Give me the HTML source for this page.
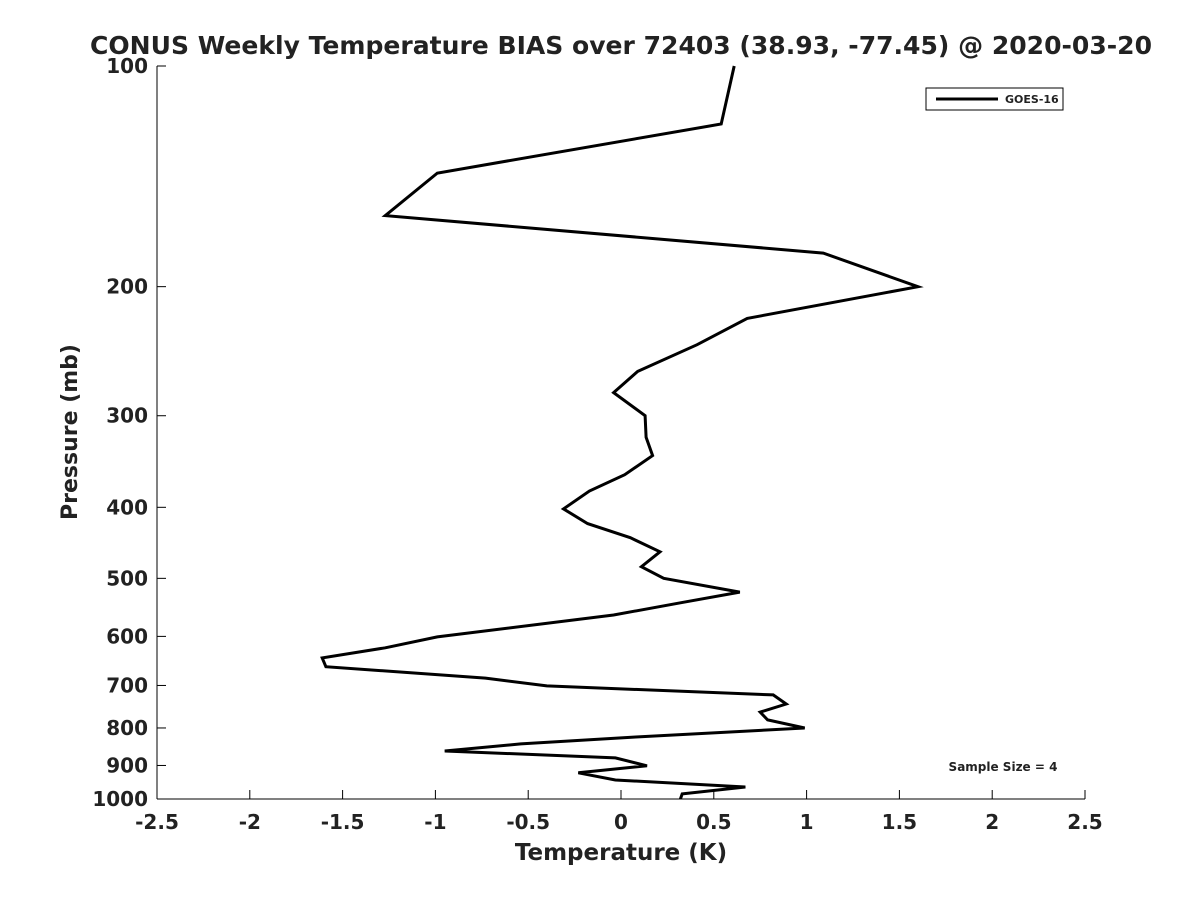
<!DOCTYPE html>
<html><head><meta charset="utf-8"><style>
body{margin:0;background:#fff;font-family:"Liberation Sans","DejaVu Sans",sans-serif}
svg text{font-family:"DejaVu Sans","Liberation Sans",sans-serif;font-weight:bold;fill:#222}
</style></head><body>
<svg id="chart" width="1200" height="900" xmlns="http://www.w3.org/2000/svg">
<rect width="1200" height="900" fill="#fff"/>
<text x="621" y="54" text-anchor="middle" font-size="25" textLength="1062" lengthAdjust="spacingAndGlyphs">CONUS Weekly Temperature BIAS over 72403 (38.93, -77.45) @ 2020-03-20</text>
<g id="axes"></g>
<path id="series" fill="none" stroke="#000" stroke-width="3" stroke-linejoin="miter"/>
<g>
<rect x="926" y="88" width="137" height="22" fill="#fff" stroke="#000" stroke-width="1"/>
<line x1="936" y1="99" x2="998" y2="99" stroke="#000" stroke-width="3"/>
<text x="1005" y="103" font-size="11">GOES-16</text>
</g>
<text x="1003" y="771" text-anchor="middle" font-size="12">Sample Size = 4</text>
<text x="621" y="860" text-anchor="middle" font-size="23">Temperature (K)</text>
<text transform="translate(77,432) rotate(-90)" text-anchor="middle" font-size="22">Pressure (mb)</text>
</svg>
<script>
const pressures=[100,120,140,160,180,200,221,240,261,279,300,321,340,361,380,402,421,440,460,482,500,522,540,561,601,622,642,660,684,701,721,742,761,780,800,823,841,860,879,901,921,942,963,984,1000];
const temps=[0.61,0.54,-0.99,-1.27,1.09,1.60,0.68,0.41,0.09,-0.04,0.13,0.135,0.17,0.02,-0.17,-0.31,-0.18,0.05,0.21,0.11,0.23,0.64,0.32,-0.04,-0.99,-1.27,-1.61,-1.59,-0.73,-0.40,0.82,0.89,0.75,0.79,0.99,0.08,-0.54,-0.95,-0.03,0.14,-0.23,-0.03,0.67,0.33,0.32];
const xTicks=[-2.5,-2,-1.5,-1,-0.5,0,0.5,1,1.5,2,2.5];
const yTicks=[100,200,300,400,500,600,700,800,900,1000];
const X0=157,X1=1085,Y0=66,Y1=799;
const xs=t=>X0+(t+2.5)/5*(X1-X0);
const ys=p=>Y0+(Math.log10(p)-2)*(Y1-Y0);
const NS='http://www.w3.org/2000/svg';
const ax=document.getElementById('axes');
function mk(tag,attrs){const e=document.createElementNS(NS,tag);for(const k in attrs)e.setAttribute(k,attrs[k]);return e;}
let l=mk('line',{x1:X0,y1:Y0,x2:X0,y2:Y1,stroke:'#000','stroke-width':1});


ax.appendChild(l);
l=mk('line',{x1:X0,y1:Y1,x2:X1,y2:Y1,stroke:'#000','stroke-width':1});


ax.appendChild(l);
xTicks.forEach(t=>{const x=xs(t);
const tk=mk('line',{x1:x,y1:Y1,x2:x,y2:Y1-9,stroke:'#000'});


ax.appendChild(tk);
const tx=mk('text',{x:x,y:829,'text-anchor':'middle','font-size':20});tx.textContent=String(t);


ax.appendChild(tx);});
yTicks.forEach(p=>{const y=ys(p);
const tk=mk('line',{x1:X0,y1:y,x2:X0+9,y2:y,stroke:'#000'});


ax.appendChild(tk);
const tx=mk('text',{x:X0-9,y:y+7,'text-anchor':'end','font-size':20});tx.textContent=String(p);


ax.appendChild(tx);});
document.getElementById('series').setAttribute('d',temps.map((t,i)=>(i?'L':'M')+xs(t).toFixed(1)+','+ys(pressures[i]).toFixed(1)).join(' '));
</script>
</body></html>
